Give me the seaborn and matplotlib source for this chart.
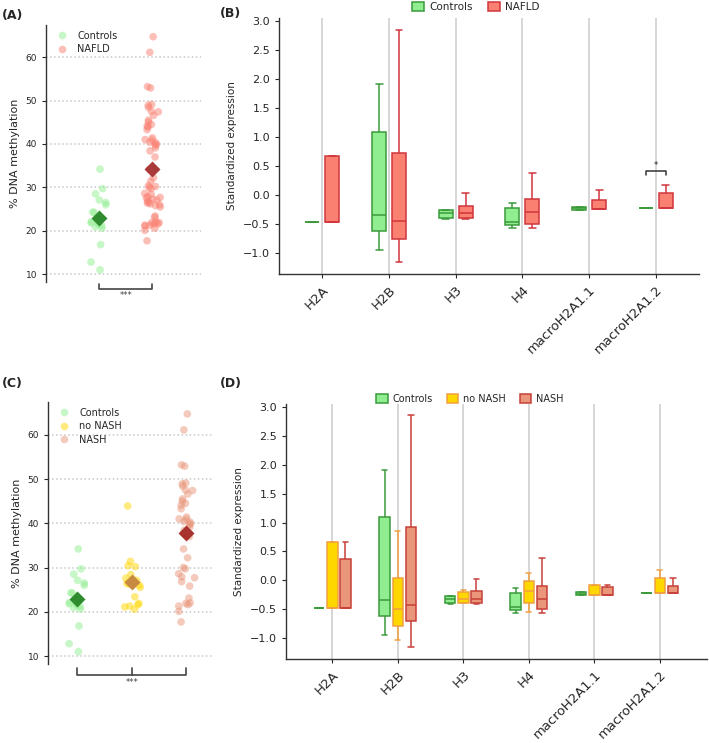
import numpy as np
import pandas as pd
import seaborn as sns
import matplotlib.pyplot as plt
from matplotlib.patches import Patch
from matplotlib.lines import Line2D

# ---- data ----
histones = ['H2A', 'H2B', 'H3', 'H4', 'macroH2A1.1', 'macroH2A1.2']

# % DNA methylation per subject
ctrl_meth = [34.2, 29.7, 28.5, 27.1, 26.5, 26.0, 24.3, 24.2, 22.1, 22.0,
             21.8, 21.5, 21.2, 20.9, 20.6, 16.8, 12.8, 11.0]
nonash_meth = [43.9, 31.4, 30.4, 30.2, 28.4, 27.6, 27.3, 27.1, 26.6, 26.4,
               26.2, 26.0, 25.5, 23.4, 21.9, 21.6, 21.3, 21.1, 20.6]
nash_meth = [64.7, 61.1, 53.2, 52.9, 49.1, 48.9, 48.4, 47.5, 47.4, 46.6,
             45.5, 45.0, 44.5, 44.1, 43.3, 41.4, 41.0, 40.9, 40.4, 40.3,
             39.9, 39.7, 39.1, 38.4, 37.0, 34.2, 32.2, 30.0, 29.7, 28.6,
             27.9, 27.7, 26.8, 25.8, 23.1, 22.0, 21.9, 21.6, 21.3, 20.1, 17.7]
nafld_meth = nonash_meth + nash_meth

# standardized expression: [min, q1, median, q3, max] per histone
ctrl_expr = [[-0.47] * 5,
             [-0.94, -0.62, -0.345, 1.09, 1.91],
             [-0.41, -0.397, -0.316, -0.266, -0.266],
             [-0.563, -0.52, -0.468, -0.22, -0.13],
             [-0.255, -0.255, -0.23, -0.203, -0.203],
             [-0.226] * 5]
nafld_expr = [[-0.47, -0.47, -0.47, 0.667, 0.667],
              [-1.16, -0.759, -0.443, 0.718, 2.85],
              [-0.41, -0.397, -0.316, -0.19, 0.029],
              [-0.563, -0.494, -0.293, -0.063, 0.374],
              [-0.247, -0.247, -0.247, -0.08, 0.092],
              [-0.23, -0.23, -0.23, 0.04, 0.178]]
nonash_expr = [[-0.476, -0.476, -0.476, 0.663, 0.663],
               [-1.029, -0.793, -0.494, 0.047, 0.859],
               [-0.396, -0.396, -0.315, -0.2, -0.171],
               [-0.545, -0.39, -0.189, -0.016, 0.122],
               [-0.258, -0.258, -0.258, -0.079, -0.079],
               [-0.223, -0.223, -0.223, 0.036, 0.174]]
nash_expr = [[-0.476, -0.476, -0.476, 0.376, 0.663],
             [-1.161, -0.695, -0.419, 0.917, 2.856],
             [-0.413, -0.396, -0.315, -0.183, 0.024],
             [-0.563, -0.5, -0.327, -0.091, 0.381],
             [-0.258, -0.258, -0.258, -0.119, -0.079],
             [-0.223, -0.223, -0.223, -0.096, 0.036]]

sns.set_style('ticks')
plt.rcParams['font.family'] = ['DejaVu Sans']
plt.rcParams['axes.edgecolor'] = '#333333'
plt.rcParams['axes.linewidth'] = 1.0

W, H = 709, 743
fig = plt.figure(figsize=(W / 100, H / 100), dpi=100)


def px_axes(l, t, r, b):
    return fig.add_axes([l / W, 1 - b / H, (r - l) / W, (b - t) / H])


def meth_panel(ax, names, vals, pt_cols, mean_cols, xlim):
    df = pd.DataFrame({'group': np.repeat(names, [len(v) for v in vals]),
                       'meth': np.concatenate(vals)})
    for y in range(10, 61, 10):
        ax.axhline(y, color='#c8c8c8', ls=':', lw=1.1, zorder=0)
    np.random.seed(3)
    sns.stripplot(data=df, x='group', y='meth', hue='group', order=names,
                  hue_order=names, palette=pt_cols, jitter=0.16, size=5.5,
                  alpha=0.5, linewidth=0, ax=ax, zorder=2, legend=False)
    sns.pointplot(data=df, x='group', y='meth', hue='group', order=names,
                  hue_order=names, palette=mean_cols, estimator='mean',
                  errorbar=None, markers='D', linestyle='none', markersize=6,
                  ax=ax, legend=False)
    handles = [Line2D([], [], ls='none', marker='o', markersize=5.5,
                      markerfacecolor=c, markeredgewidth=0, alpha=0.5,
                      label=n) for n, c in zip(names, pt_cols)]
    ax.legend(handles=handles, loc='upper left', frameon=False,
              fontsize=7, handletextpad=0.6, borderaxespad=0.2,
              labelspacing=0.35, bbox_to_anchor=(0.0, 1.0))
    ax.set_xlim(xlim)
    ax.set_ylim(8.2, 67.4)
    ax.set_yticks(range(10, 61, 10))
    ax.set_xticks([])
    ax.set_xlabel('')
    ax.set_ylabel('% DNA methylation', fontsize=8)
    ax.tick_params(axis='y', labelsize=6.5, length=3)
    sns.despine(ax=ax, bottom=True)


def expr_panel(ax, names, summaries, fills, edges, width, gap, xlim):
    rows = []
    for name, summ in zip(names, summaries):
        for hist, five in zip(histones, summ):
            for v in five:
                rows.append((name, hist, v))
    df = pd.DataFrame(rows, columns=['group', 'histone', 'expr'])
    for x in range(len(histones)):
        ax.axvline(x, color='#cfcfcf', lw=1.2, zorder=0)
    pal = dict(zip(names, fills))
    for name, edge in zip(names, edges):
        sns.boxplot(data=df[df['group'] == name], x='histone', y='expr',
                    hue='group', order=histones, hue_order=names, palette=pal,
                    dodge=True, linecolor=edge, linewidth=1.1, width=width,
                    gap=gap, whis=(0, 100), fliersize=0, saturation=1,
                    legend=False, ax=ax)
    ax.set_xlim(xlim)
    ax.set_ylim(-1.36, 3.05)
    ax.set_yticks(np.arange(-1.0, 3.01, 0.5))
    ax.set_xticks(range(len(histones)))
    ax.set_xticklabels(histones, rotation=45, ha='right',
                       rotation_mode='anchor', fontsize=9.5)
    ax.tick_params(axis='y', labelsize=8, length=3)
    ax.tick_params(axis='x', length=3)
    ax.set_xlabel('')
    ax.set_ylabel('Standardized expression', fontsize=7.5)
    sns.despine(ax=ax)
    return [Patch(facecolor=f, edgecolor=e, lw=1.1, label=n)
            for n, f, e in zip(names, fills, edges)]


# ---- (A) ----
axA = px_axes(46, 25, 201, 282)
meth_panel(axA, ['Controls', 'NAFLD'], [ctrl_meth, nafld_meth],
           ['#90EE90', '#FA8072'], ['#2E8B2E', '#A83A3A'], (-1.0, 1.92))
axA.plot([0, 0, 1, 1], [7.7, 6.5, 6.5, 7.7], color='#444444', lw=1.2,
         clip_on=False)
axA.text(0.5, 5.0, '***', ha='center', va='center', fontsize=6,
         color='#444444')

# ---- (B) ----
axB = px_axes(279, 18, 699, 274)
hB = expr_panel(axB, ['Controls', 'NAFLD'], [ctrl_expr, nafld_expr],
                ['#90EE90', '#FA8072'], ['#3A9A3A', '#D0363C'],
                0.6, 0.3, (-0.65, 5.65))
axB.plot([4.85, 4.85, 5.15, 5.15], [0.34, 0.42, 0.42, 0.34],
         color='#333333', lw=1.1)
axB.text(5.0, 0.44, '*', ha='center', va='bottom', fontsize=6)
fig.legend(handles=hB, loc='upper center', bbox_to_anchor=(476 / W, 1.01),
           ncol=2, frameon=False, fontsize=7.5, handlelength=1.2,
           handleheight=1.0, columnspacing=1.4, handletextpad=0.5)

# ---- (C) ----
axC = px_axes(48, 402, 213, 664)
meth_panel(axC, ['Controls', 'no NASH', 'NASH'],
           [ctrl_meth, nonash_meth, nash_meth],
           ['#90EE90', '#FFD700', '#E9967A'],
           ['#2E8B2E', '#C88A40', '#A8322E'], (-0.54, 2.49))
axC.plot([0, 0, 2, 2], [7.3, 5.7, 5.7, 7.3], color='#444444', lw=1.2,
         clip_on=False)
axC.plot([1, 1], [5.7, 7.3], color='#444444', lw=1.2, clip_on=False)
axC.text(1.0, 4.0, '***', ha='center', va='center', fontsize=6,
         color='#444444')

# ---- (D) ----
axD = px_axes(286, 404, 707, 659)
hD = expr_panel(axD, ['Controls', 'no NASH', 'NASH'],
                [ctrl_expr, nonash_expr, nash_expr],
                ['#90EE90', '#FFD700', '#E9967A'],
                ['#3A9A3A', '#F0A040', '#C8403A'],
                0.6, 0.2, (-0.707, 5.72))
fig.legend(handles=hD, loc='upper center',
           bbox_to_anchor=(470 / W, 1 - 385 / H), ncol=3, frameon=False,
           fontsize=7, handlelength=1.2, handleheight=1.0,
           columnspacing=1.4, handletextpad=0.5)

for lab, x, y in [('(A)', 2, 15), ('(B)', 220, 14), ('(C)', 2, 383),
                  ('(D)', 220, 383)]:
    fig.text(x / W, 1 - y / H, lab, fontsize=9, fontweight='bold',
             va='center', ha='left')

fig.savefig('out.png', dpi=100)
